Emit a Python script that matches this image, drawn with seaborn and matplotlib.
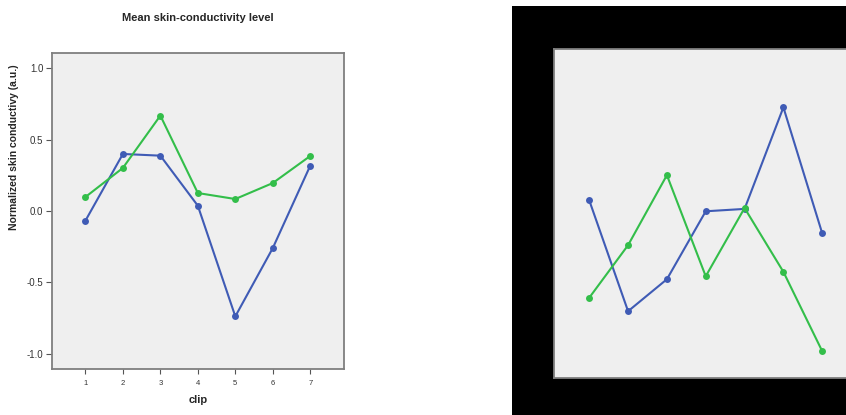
import matplotlib
matplotlib.use("Agg")
import matplotlib.pyplot as plt
import seaborn as sns
import pandas as pd

sns.set_theme(style="white")
plt.rcParams["font.family"] = ["Liberation Sans", "DejaVu Sans"]

# Mean skin-conductivity per clip for the two groups
clips = [1, 2, 3, 4, 5, 6, 7]
group_a = [-0.068, 0.400, 0.388, 0.037, -0.739, -0.260, 0.318]
group_b = [0.098, 0.302, 0.669, 0.126, 0.084, 0.196, 0.386]

# Second panel series
panel2_a = [0.088, -0.661, -0.445, 0.014, 0.030, 0.716, -0.135]
panel2_b = [-0.570, -0.215, 0.258, -0.425, 0.036, -0.395, -0.931]

y_ticks = [-1.0, -0.5, 0.0, 0.5, 1.0]
y_tick_labels = ["-1.0", "-0.5", "0.0", "0.5", "1.0"]

BLUE = "#3f5bb5"
GREEN = "#33be4a"
PANEL_BG = "#efefef"
FRAME = "#7f7f7f"


def long_table(a, b):
    return pd.DataFrame({
        "clip": clips * 2,
        "value": a + b,
        "group": ["A"] * len(a) + ["B"] * len(b),
    })


def draw_lines(ax, df):
    sns.lineplot(data=df, x="clip", y="value", hue="group",
                 palette={"A": BLUE, "B": GREEN}, marker="o",
                 markersize=5, markeredgewidth=0, linewidth=1.5,
                 legend=False, ax=ax)
    ax.set_facecolor(PANEL_BG)
    for sp in ax.spines.values():
        sp.set_color(FRAME)
        sp.set_linewidth(1.3)
    ax.set_xlim(0.1, 7.9)
    ax.set_ylim(-1.11, 1.11)


fig = plt.figure(figsize=(8.46, 4.15), dpi=100)

# Left panel
ax1 = fig.add_axes([0.0611, 0.1101, 0.3455, 0.7629])
draw_lines(ax1, long_table(group_a, group_b))
ax1.set_xticks(clips)
ax1.set_xticklabels([str(c) for c in clips], fontsize=5.5, color="#333333")
ax1.set_yticks(y_ticks)
ax1.set_yticklabels(y_tick_labels, fontsize=7, color="#333333")
ax1.tick_params(axis="y", length=4, width=0.8, color="#555555", pad=2, left=True)
ax1.tick_params(axis="x", length=3.5, width=0.8, color="#555555", pad=4, bottom=True)
ax1.set_xlabel("clip", fontsize=8, fontweight="bold", labelpad=6)
ax1.set_ylabel("Normalized skin conductivy (a.u.)", fontsize=7.5,
               fontweight="bold")
ax1.yaxis.set_label_coords(-0.112, 0.70)
fig.text(0.2338, 0.957, "Mean skin-conductivity level", ha="center",
         va="center", fontsize=8, fontweight="bold")

# Right panel on a black backdrop
back = fig.add_axes([0.6052, 0.0, 0.45, 0.9855])
back.set_facecolor("black")
back.set_xticks([])
back.set_yticks([])
for sp in back.spines.values():
    sp.set_visible(False)

ax2 = fig.add_axes([0.6552, 0.0899, 0.358, 0.7920])
draw_lines(ax2, long_table(panel2_a, panel2_b))
ax2.set_xticks([])
ax2.set_yticks([])
ax2.set_xlabel("")
ax2.set_ylabel("")

fig.savefig("out.png", dpi=100)
